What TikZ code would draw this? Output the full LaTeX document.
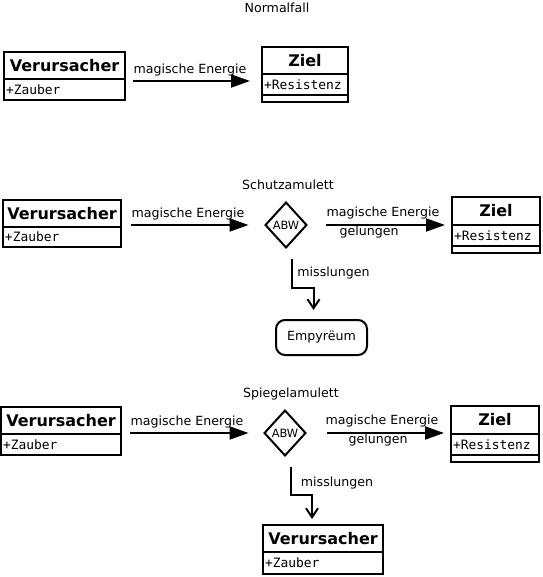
\documentclass[tikz,border=0pt]{standalone}
\usepackage{fontspec}
\setmainfont{DejaVu Sans}
\setmonofont{DejaVu Sans Mono}
\usetikzlibrary{shapes.geometric,arrows.meta,calc}
\tikzset{
  lbl/.style={font=\fontsize{12.6}{15}\selectfont, inner sep=0pt},
  hdr/.style={draw, line width=2pt, outer sep=0pt, inner sep=0pt, font=\bfseries\fontsize{16}{19}\selectfont},
  attr/.style={draw, line width=2pt, outer sep=0pt, inner xsep=2pt, inner ysep=0pt, align=left, font=\ttfamily\fontsize{12.9}{15}\selectfont, anchor=north west},
  emptyrow/.style={draw, line width=2pt, outer sep=0pt, inner sep=0pt, anchor=north west},
  arr/.style={line width=2pt, -{Triangle[length=19pt,width=13pt]}},
  barb/.style={line width=2pt, -{Straight Barb[length=9pt,width=12pt]}},
  abw/.style={diamond, draw, line width=2pt, outer sep=0pt, inner sep=0pt, minimum width=41pt, minimum height=45pt, font=\fontsize{11.4}{13}\selectfont},
  sink/.style={draw, line width=2pt, rounded corners=9pt, outer sep=0pt, minimum width=91pt, minimum height=35pt, font=\fontsize{12.6}{15}\selectfont},
}
\begin{document}
\begin{tikzpicture}[x=1pt,y=-1pt]
\useasboundingbox (0,0) rectangle (542,577);

% ---------- Normalfall ----------
\node[lbl] (t1) at (277,8) {Normalfall};
\node[hdr, minimum width=121pt, minimum height=27pt] (v1h) at (64.5,65.5) {Verursacher};
\node[attr, text width=117pt, minimum height=21pt] (v1a) at (v1h.south west) {+Zauber};
\node[hdr, minimum width=86pt, minimum height=27pt] (z1h) at (305,60.5) {Ziel};
\node[attr, text width=82pt, minimum height=21pt] (z1a) at (z1h.south west) {+Resistenz};
\node[emptyrow, minimum width=86pt, minimum height=7pt] (z1e) at (z1a.south west) {};
\draw[arr] ($(v1h.south east)+(8,2)$) -- ($(z1h.south west)+(-12,7)$);
\node[lbl] (m1) at (190,70) {magische Energie};

% ---------- Schutzamulett ----------
\node[lbl] (t2) at (288,185) {Schutzamulett};
\node[hdr, minimum width=118pt, minimum height=27pt] (v2h) at (62,213.5) {Verursacher};
\node[attr, text width=114pt, minimum height=20pt] (v2a) at (v2h.south west) {+Zauber};
\node[abw] (d2) at (286,225) {ABW};
\node[hdr, minimum width=88pt, minimum height=28pt] (z2h) at (496,211) {Ziel};
\node[attr, text width=84pt, minimum height=21pt] (z2a) at (z2h.south west) {+Resistenz};
\node[emptyrow, minimum width=88pt, minimum height=7pt] (z2e) at (z2a.south west) {};
\node[sink] (emp) at (321.5,337.5) {Empyrëum};
\draw[arr] ($(v2h.south east)+(10,-2)$) -- ($(d2.west)+(-17,0)$);
\node[lbl] (m2) at (188,214) {magische Energie};
\draw[arr] ($(d2.east)+(19,0)$) -- ($(z2h.south west)+(-7,0)$);
\node[lbl] (m3) at (383,213) {magische Energie};
\node[lbl] (g2) at (369,232) {gelungen};
\draw[barb] ($(d2.south)+(6,11)$) -- ++(0,29) -| ($(emp.north)+(-8,-10)$);
\node[lbl] (f2) at (333.5,273) {misslungen};

% ---------- Spiegelamulett ----------
\node[lbl] (t3) at (291,394) {Spiegelamulett};
\node[hdr, minimum width=120pt, minimum height=27pt] (v3h) at (61,420.5) {Verursacher};
\node[attr, text width=116pt, minimum height=21pt] (v3a) at (v3h.south west) {+Zauber};
\node[abw] (d3) at (285,433) {ABW};
\node[hdr, minimum width=88pt, minimum height=28pt] (z3h) at (495,420) {Ziel};
\node[attr, text width=84pt, minimum height=21pt] (z3a) at (z3h.south west) {+Resistenz};
\node[emptyrow, minimum width=88pt, minimum height=7pt] (z3e) at (z3a.south west) {};
\node[hdr, minimum width=120pt, minimum height=27pt] (v4h) at (323,538.5) {Verursacher};
\node[attr, text width=116pt, minimum height=22pt] (v4a) at (v4h.south west) {+Zauber};
\draw[arr] ($(v3h.south east)+(9,-1)$) -- ($(d3.west)+(-16,0)$);
\node[lbl] (m4) at (187,422) {magische Energie};
\draw[arr] ($(d3.east)+(21,0)$) -- ($(z3h.south west)+(-7,-1)$);
\node[lbl] (m5) at (382,421) {magische Energie};
\node[lbl] (g3) at (378,440) {gelungen};
\draw[barb] ($(d3.south)+(6,11)$) -- ++(0,28) -| ($(v4h.north)+(-11,-6)$);
\node[lbl] (f3) at (337,483) {misslungen};
\end{tikzpicture}
\end{document}
